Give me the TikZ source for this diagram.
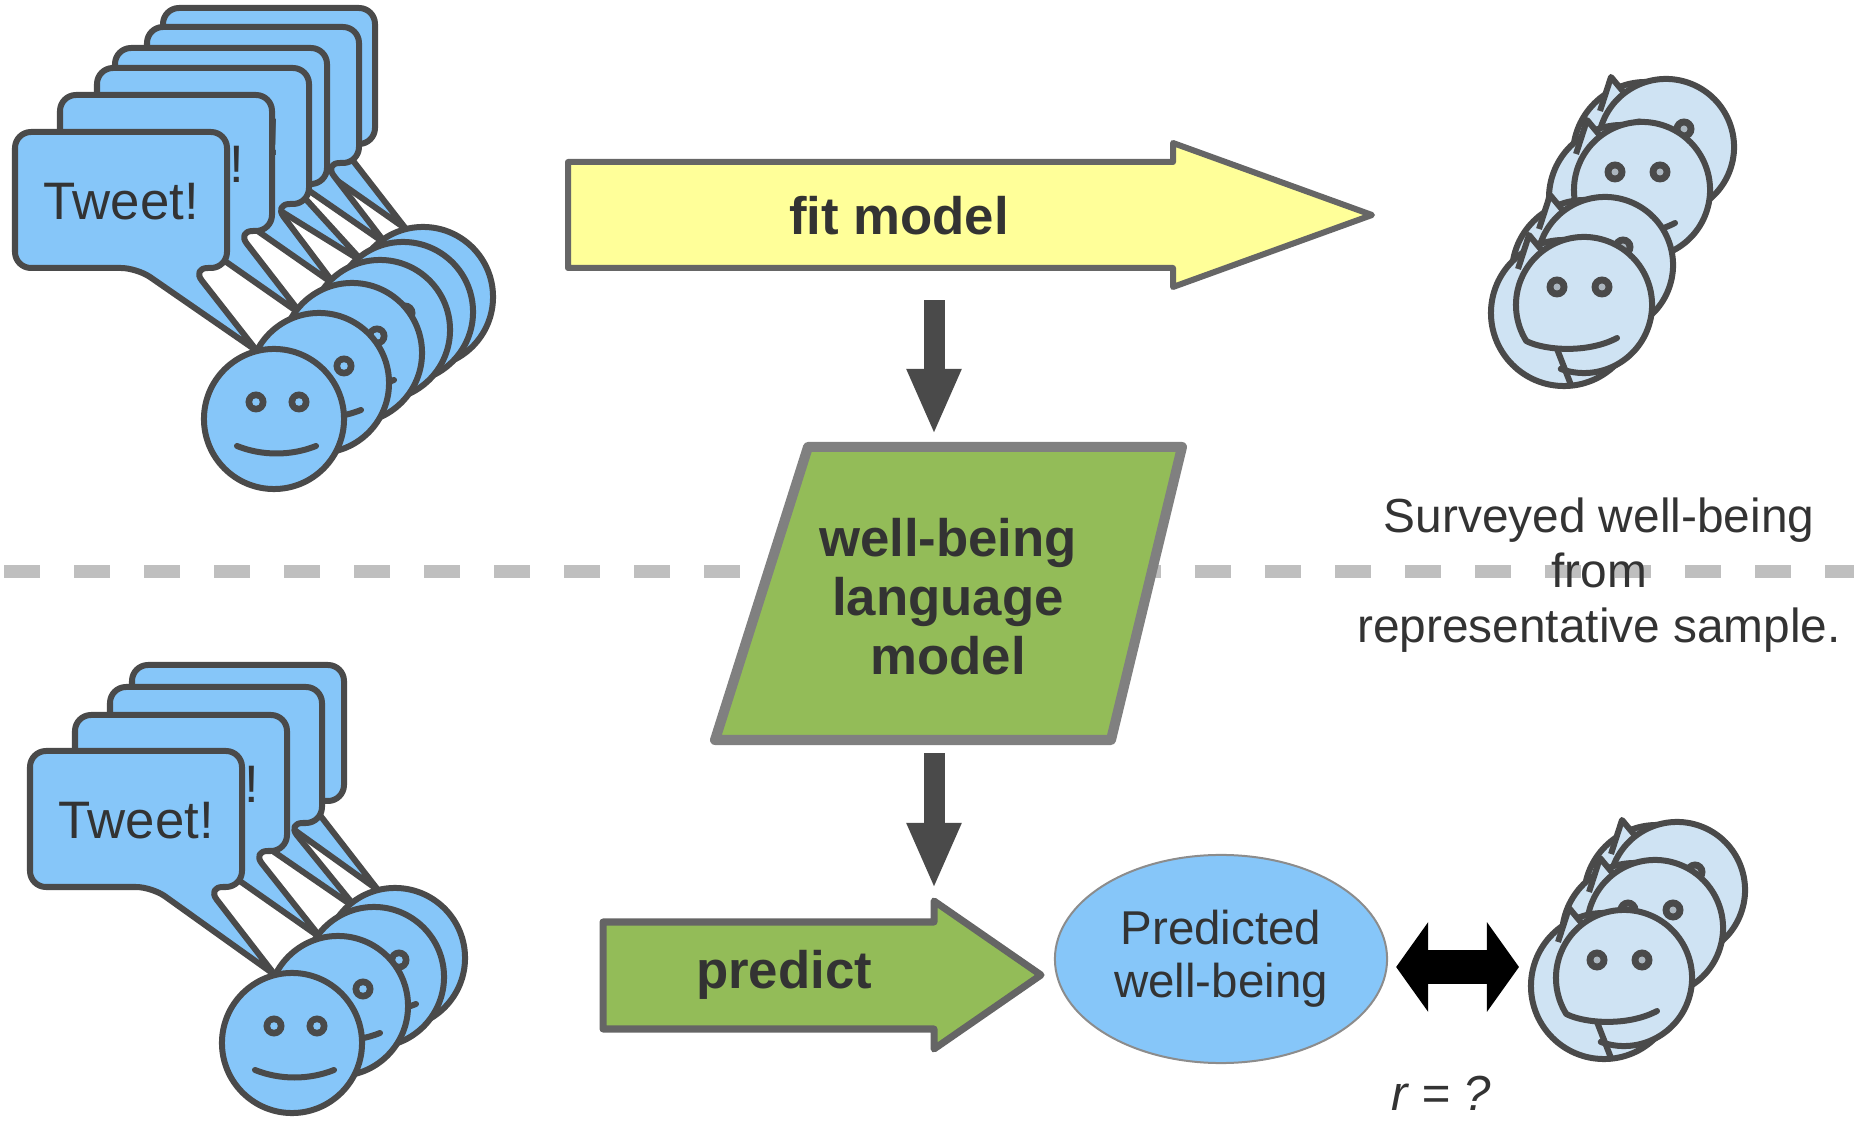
\documentclass[tikz,border=0pt]{standalone}
\usepackage{fontspec}
\setmainfont{Liberation Sans}
\usetikzlibrary{arrows.meta, shapes.geometric}

\definecolor{tweetblue}{RGB}{134,198,249}
\definecolor{surveyblue}{RGB}{207,227,243}
\definecolor{linegray}{RGB}{74,74,74}
\definecolor{textgray}{RGB}{51,51,51}
\definecolor{arrowgray}{RGB}{102,102,102}
\definecolor{framegray}{RGB}{128,128,128}
\definecolor{fityellow}{RGB}{255,255,153}
\definecolor{modelgreen}{RGB}{147,188,88}

\begin{document}
\begin{tikzpicture}[x=0.01cm, y=-0.01cm, line join=round,
		bubble/.style={draw=linegray, fill=tweetblue, line width=0.06cm, rounded corners=0.16cm},
		face/.style={draw=linegray, fill=tweetblue, line width=0.06cm},
		sface/.style={draw=linegray, fill=surveyblue, line width=0.06cm},
		sline/.style={draw=linegray, line width=0.06cm, line cap=round},
		tweet/.style={text=textgray, font=\fontsize{15}{17}\selectfont},
		boldtext/.style={text=textgray, font=\fontsize{15}{16.8}\selectfont\bfseries, align=center},
		plaintext/.style={text=textgray, font=\fontsize{13.6}{15.6}\selectfont, align=center},
		dashline/.style={draw=black!25, line width=0.13cm, dash pattern=on 0.36cm off 0.34cm},
		downarrow/.style={draw=linegray, line width=0.21cm, -{Triangle[width=0.5cm,length=0.66cm]}},
		bothways/.style={draw=black, line width=0.34cm, {Triangle[width=0.88cm,length=0.32cm]}-{Triangle[width=0.88cm,length=0.32cm]}}]
		\useasboundingbox (0,0) rectangle (1854,1122);
		% Trennlinie
		\draw[dashline] (4,572) -- (1854,572);
		% Sprechblasen (von hinten nach vorne)
		\foreach \bx/\by/\cx/\cy [count=\i] in {163/8/423/297, 147/27/403/312, 115/48/380/330, 97/68/352/353, 60/95/319/383, 15/132/274/419,
				132/665/395/958, 110/687/374/977, 75/715/338/1006, 30/751/292/1043}
		{
			\draw[bubble] (\bx,\by) -- ++(212,0) -- ++(0,136) -- ++(-35,0) [sharp corners] -- (\cx-17,\cy-68) [rounded corners=0.16cm] -- (\bx+122,\by+136) -- (\bx,\by+136) -- cycle;
			\node[tweet] (tweet\i) at (\bx+106,\by+70) {Tweet!};
		}
		% Gesichter der Twitter-Nutzer
		\foreach \cx/\cy in {423/297, 403/312, 380/330, 352/353, 319/383, 274/419, 395/958, 374/977, 338/1006, 292/1043}
		{
			\begin{scope}[shift={(\cx,\cy)}]
				\draw[face] (0,0) circle[radius=0.7cm];
				\foreach \ex in {-18,25} {
					\fill[linegray] (\ex,-17) circle[radius=0.105cm];
					\fill[tweetblue] (\ex,-17) circle[radius=0.038cm];
				}
				\draw[sline] (-37,27) .. controls (-12,37) and (17,37) .. (42,27);
			\end{scope}
		}
		% Befragte
		\foreach \cx/\cy in {1666/147, 1642/190, 1605/265, 1584/305, 1677/890, 1655/928, 1624/978}
		{
			\begin{scope}[shift={(\cx,\cy)}]
				\draw[sface] (-20,8) circle[radius=0.73cm];
				\draw[sface] (-66,-36) -- (-55,-70) -- (-40,-52);
				\fill[surveyblue] (0,0) circle[radius=0.68cm];
				\draw[sline] (0,0) ++(250:0.68cm) arc[start angle=250, end angle=572, radius=0.68cm] .. controls (-38,46) and (5,48) .. (33,33);
				\draw[sline] (-27,44) -- (-13,80);
				\foreach \ex in {-27,18} {
					\fill[linegray] (\ex,-18) circle[radius=0.105cm];
					\fill[surveyblue!55!gray] (\ex,-18) circle[radius=0.035cm];
				}
			\end{scope}
		}
		% Modell anpassen
		\draw[fill=fityellow, draw=arrowgray, line width=0.06cm] (568,162) -- (1173,162) -- (1173,143) -- (1372,215) -- (1173,287) -- (1173,268) -- (568,268) -- cycle;
		\node[boldtext] (fit) at (899,216) {fit model};
		\coordinate (fitfoot) at (934,268);
		\coordinate (modeltop) at (934,447);
		\draw[downarrow, shorten <=0.32cm, shorten >=0.12cm] (fitfoot) -- (modeltop);
		% Sprachmodell
		\draw[fill=modelgreen, draw=framegray, line width=0.1cm] (808,447) -- (1182,447) -- (1111,740) -- (715,740) -- cycle;
		\node[boldtext] (model) at (948,597) {well-being\\language\\model};
		\coordinate (modelfoot) at (934,740);
		\coordinate (predtop) at (934,901);
		\draw[downarrow, shorten <=0.13cm, shorten >=0.12cm] (modelfoot) -- (predtop);
		% Vorhersage
		\draw[fill=modelgreen, draw=linegray!85!white, line width=0.07cm] (603,922) -- (934,922) -- (934,901) -- (1041,975) -- (934,1049) -- (934,1029) -- (603,1029) -- cycle;
		\node[boldtext] (predict) at (784,975) {predict};
		\node[ellipse, draw=black!45, fill=tweetblue, line width=0.02cm, minimum width=3.32cm, minimum height=2.08cm, inner sep=0pt, plaintext, font=\fontsize{13.5}{15.1}\selectfont] (pred) at (1221,959) {Predicted\\well-being};
		% Vergleich
		\node[plaintext] (survey) at (1599,575) {Surveyed well-being\\from\\representative sample.};
		\coordinate (surveyface) at (1536,967);
		\draw[bothways, shorten <=0.08cm, shorten >=0.17cm] (pred.east |- surveyface) -- (surveyface);
		\node[plaintext, font=\fontsize{14}{16}\selectfont\itshape] (rval) at (1441,1093) {r = ?};
	\end{tikzpicture}
\end{document}
